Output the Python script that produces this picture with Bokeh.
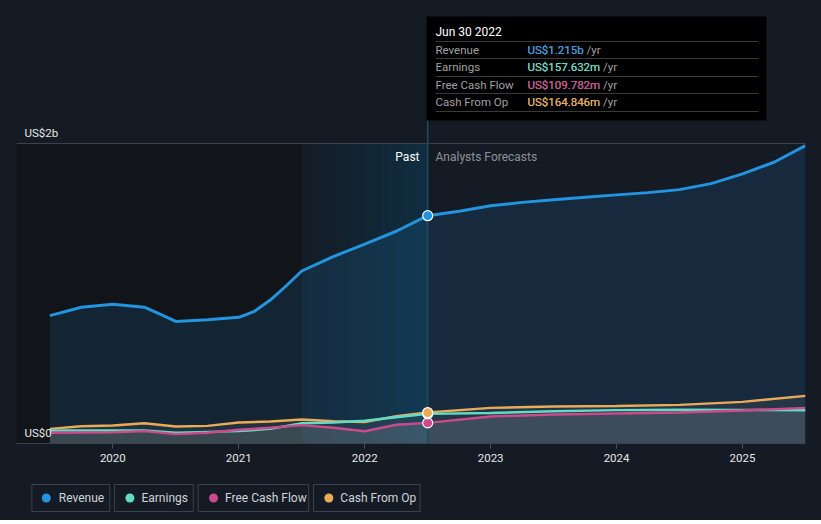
from bokeh.plotting import figure
from bokeh.layouts import column
from bokeh.models import Range1d, FixedTicker, Span
from bokeh.core.properties import value
from bokeh.embed import file_html
from bokeh.resources import INLINE

# ---------------- data (US$ millions, dates as decimal years) ----------------
rev_past_dates = [2019.5, 2019.75, 2020.0, 2020.25, 2020.375, 2020.5, 2020.75, 2021.0,
                  2021.125, 2021.25, 2021.375, 2021.5, 2021.75, 2022.0, 2022.25, 2022.5]
rev_past = [682, 727, 743, 727, 690, 651, 660, 673, 705, 765, 840, 920, 997, 1063, 1132, 1215]

rev_fc_dates = [2022.75, 2023.0, 2023.25, 2023.5, 2023.75, 2024.0, 2024.25, 2024.5,
                2024.75, 2025.0, 2025.25, 2025.5]
rev_fc = [1239, 1268, 1286, 1300, 1313, 1326, 1338, 1354, 1386, 1438, 1500, 1589]

past_dates = [2019.5, 2019.75, 2020.0, 2020.25, 2020.5, 2020.75, 2021.0,
              2021.25, 2021.5, 2021.75, 2022.0, 2022.25, 2022.5]
earn_past = [69, 69, 69, 70, 57, 62, 66, 78, 108, 112, 121, 140, 158]
fcf_past = [57, 59, 60, 66, 50, 57, 73, 84, 98, 84, 65, 100, 110]
cfo_past = [78, 92, 96, 108, 91, 94, 112, 117, 128, 119, 115, 146, 165]

fc_dates = [2023.0, 2023.5, 2024.0, 2024.5, 2025.0, 2025.5]
earn_fc = [163, 172, 178, 180, 179, 177]
fcf_fc = [144, 155, 160, 165, 176, 190]
cfo_fc = [190, 197, 200, 206, 222, 254]

x_ticks = [2020, 2021, 2022, 2023, 2024, 2025]
y_labels = ["US$2b", "US$0"]
grid_vals = [500, 1000, 1500]
top_val = 1600

tip_title = "Jun 30 2022"
tip_names = ["Revenue", "Earnings", "Free Cash Flow", "Cash From Op"]
tip_values = ["US$1.215b", "US$157.632m", "US$109.782m", "US$164.846m"]
tip_unit = " /yr"
legend_names = ["Revenue", "Earnings", "Free Cash Flow", "Cash From Op"]

now_date = 2022.5
band_start = 2021.5

# ---------------- styling ----------------
BG = "#151b25"
PAST_BG = "#111419"
C_REV = "#2394df"
C_EARN = "#5fdcc4"
C_FCF = "#cc4a8b"
C_CFO = "#eaaa58"
FONT = value("Roboto")

rev_x = rev_past_dates + rev_fc_dates
rev_y = rev_past + rev_fc
oth_x = past_dates + fc_dates
earn_y = earn_past + earn_fc
fcf_y = fcf_past + fcf_fc
cfo_y = cfo_past + cfo_fc

X0, X1 = 2019.235, 2025.5
Y0, Y1 = 0, 2320
FL, FR, FT, FB = 16, 805, 8, 443  # frame edges in page pixels
W, H_MAIN, H_LEG = 821, 478, 42


def px2x(px):
    return X0 + (px - FL) * (X1 - X0) / (FR - FL)


def py2y(py):
    return Y0 + (FB - py) * (Y1 - Y0) / (FB - FT)


p = figure(width=W, height=H_MAIN, x_range=Range1d(X0, X1), y_range=Range1d(Y0, Y1),
           output_backend="svg", toolbar_location=None, y_axis_type=None,
           min_border_left=FL, min_border_right=W - FR, min_border_top=FT,
           min_border_bottom=H_MAIN - FB)
p.background_fill_color = BG
p.border_fill_color = BG
p.outline_line_color = None

# background regions
r = p.quad(left=[X0], right=[band_start], bottom=[0], top=[top_val],
           fill_color=PAST_BG, line_color=None)
r.level = "image"
n = 16
w = (now_date - band_start) / n
for i in range(n):
    rr = p.quad(left=[band_start + i * w], right=[band_start + (i + 1) * w + 0.001],
                bottom=[0], top=[top_val], fill_color="#0a4a66",
                fill_alpha=0.08 + 0.32 * (i / (n - 1)) ** 1.3, line_color=None)
    rr.level = "image"

# grid
p.xgrid.visible = False
p.ygrid.ticker = FixedTicker(ticks=grid_vals)
p.ygrid.grid_line_color = "#2a313b"
p.ygrid.grid_line_width = 1
p.add_layout(Span(location=top_val, dimension="width", line_color="#3b424c",
                  line_width=1, level="underlay"))

# areas
p.varea(x=rev_x, y1=0, y2=rev_y, fill_color=C_REV, fill_alpha=0.13)
p.varea(x=oth_x, y1=0, y2=cfo_y, fill_color="#a0a3a8", fill_alpha=0.10)
p.varea(x=oth_x, y1=0, y2=[min(a, b) for a, b in zip(earn_y, fcf_y)],
        fill_color="#a0a3a8", fill_alpha=0.20)

# now line
p.segment(x0=[now_date], x1=[now_date], y0=[0], y1=[py2y(119)],
          line_color="#1e4a5e", line_width=1.5)

# lines
p.line(oth_x, cfo_y, line_color=C_CFO, line_width=2.5)
p.line(oth_x, earn_y, line_color=C_EARN, line_width=2.5)
p.line(oth_x, fcf_y, line_color=C_FCF, line_width=2.5)
p.line(rev_x, rev_y, line_color=C_REV, line_width=3, line_join="round")

# dots at now
p.scatter(x=[now_date] * 4, y=[fcf_past[-1], earn_past[-1], cfo_past[-1], rev_past[-1]],
          fill_color=[C_FCF, C_EARN, C_CFO, C_REV], line_color="#ffffff",
          line_width=1.2, size=10)

# y labels inside
p.text(x=[px2x(24)] * 2, y=[py2y(132), py2y(432)], text=y_labels,
       text_font=FONT, text_font_size="11.5px", text_color="#e6e6e6",
       text_baseline="middle", text_align="left")

# Past / Forecast labels
p.text(x=[px2x(419)], y=[py2y(156)], text=["Past"], text_font=FONT,
       text_font_size="12px", text_color="#ffffff", text_baseline="middle", text_align="right")
p.text(x=[px2x(435)], y=[py2y(156)], text=["Analysts Forecasts"], text_font=FONT,
       text_font_size="12px", text_color="#8c9199", text_baseline="middle", text_align="left")

# tooltip
p.quad(left=[px2x(426)], right=[px2x(766)], top=[py2y(16)], bottom=[py2y(120)],
       fill_color="#000000", line_color=None)
p.text(x=[px2x(435)], y=[py2y(31)], text=[tip_title], text_font=FONT,
       text_font_size="12px", text_color="#ffffff", text_baseline="middle")
sep_y = [41, 58, 76, 93, 111]
p.segment(x0=[px2x(435)] * 5, x1=[px2x(758)] * 5, y0=[py2y(v) for v in sep_y],
          y1=[py2y(v) for v in sep_y], line_color="#3a3a3a", line_width=1)
row_y = [py2y(v) for v in [49, 66, 84, 101]]
p.text(x=[px2x(435)] * 4, y=row_y, text=tip_names, text_font=FONT,
       text_font_size="11.5px", text_color="#a0a0a0", text_baseline="middle")
# full "value /yr" string in grey, then the value itself in colour on top
p.text(x=[px2x(527)] * 4, y=row_y, text=[v + tip_unit for v in tip_values], text_font=FONT,
       text_font_size="11.5px", text_color="#a0a0a0", text_baseline="middle")
p.text(x=[px2x(527)] * 4, y=row_y, text=tip_values, text_font=FONT,
       text_font_size="11.5px", text_color=[C_REV, C_EARN, C_FCF, C_CFO],
       text_baseline="middle")

# x axis
p.xaxis.ticker = FixedTicker(ticks=x_ticks)
p.xaxis.minor_tick_line_color = None
p.xaxis.major_tick_in = 0
p.xaxis.major_tick_out = 5
p.xaxis.major_tick_line_color = "#4a505a"
p.xaxis.axis_line_color = "#3b424c"
p.xaxis.major_label_text_color = "#e6e6e6"
p.xaxis.major_label_text_font = "Roboto"
p.xaxis.major_label_text_font_size = "11.5px"
p.xaxis.major_label_standoff = 5

# ---------------- legend strip ----------------
lg = figure(width=W, height=H_LEG, x_range=Range1d(0, W), y_range=Range1d(H_LEG, 0),
            output_backend="svg", toolbar_location=None, x_axis_type=None, y_axis_type=None,
            min_border=0)
lg.background_fill_color = BG
lg.border_fill_color = BG
lg.outline_line_color = None
lg.grid.visible = False
lg.quad(left=[16, 102, 189, 309], right=[97, 184, 304, 420], top=[6] * 4, bottom=[33] * 4,
        fill_color=BG, line_color="#3b424c", line_width=1)
lg.scatter(x=[31, 118, 205, 325], y=[19.5] * 4, size=9,
           fill_color=[C_REV, C_EARN, C_FCF, C_CFO], line_color=None)
lg.text(x=[44, 130, 217, 337], y=[19.5] * 4, text=legend_names, text_font=FONT,
        text_font_size="12px", text_color="#d0d3d8", text_baseline="middle")

layout = column(p, lg, spacing=0)
layout.styles = {"background-color": BG}
open("out.html", "w").write(file_html(layout, INLINE))
